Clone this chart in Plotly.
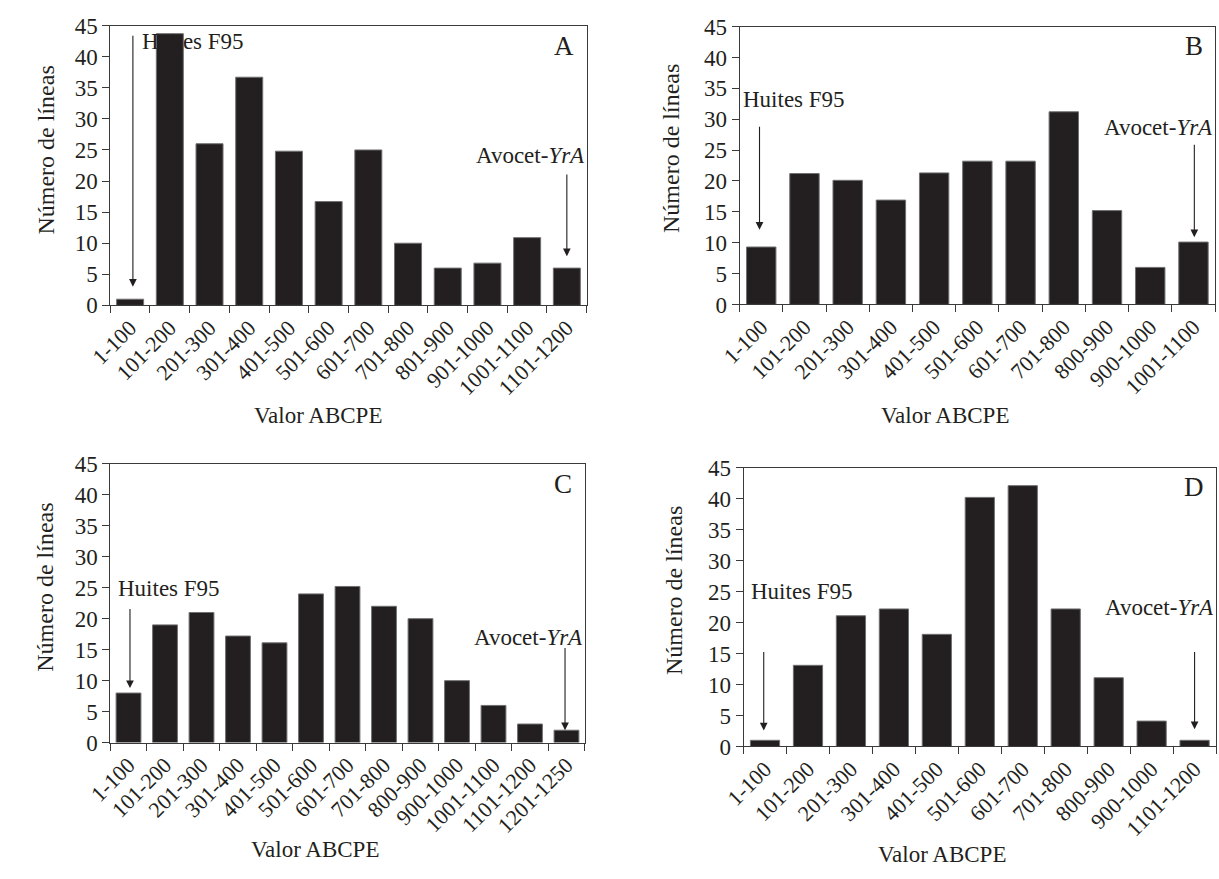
import plotly.graph_objects as go

# ---------------- data ----------------
cats_A = ["1-100", "101-200", "201-300", "301-400", "401-500", "501-600", "601-700",
          "701-800", "801-900", "901-1000", "1001-1100", "1101-1200"]
vals_A = [1, 43.7, 26, 36.7, 24.8, 16.7, 25, 10, 6, 6.8, 10.9, 6]

cats_B = ["1-100", "101-200", "201-300", "301-400", "401-500", "501-600", "601-700",
          "701-800", "800-900", "900-1000", "1001-1100"]
vals_B = [9.3, 21.2, 20.1, 16.9, 21.3, 23.2, 23.2, 31.2, 15.2, 6, 10.1]

cats_C = ["1-100", "101-200", "201-300", "301-400", "401-500", "501-600", "601-700",
          "701-800", "800-900", "900-1000", "1001-1100", "1101-1200", "1201-1250"]
vals_C = [8, 19, 21, 17.2, 16.1, 24, 25.2, 22, 20, 10, 6, 3, 2]

cats_D = ["1-100", "101-200", "201-300", "301-400", "401-500", "501-600", "601-700",
          "701-800", "800-900", "900-1000", "1101-1200"]
vals_D = [1, 13.1, 21.1, 22.2, 18.1, 40.2, 42.1, 22.2, 11.1, 4.1, 1]

panel_letters = ["A", "B", "C", "D"]
y_ticks = [0, 5, 10, 15, 20, 25, 30, 35, 40, 45]
x_title = "Valor ABCPE"
y_title = "Número de líneas"
label_huites = "Huites F95"
label_avocet = "Avocet-<i>YrA</i>"

# ---------------- styling / layout ----------------
W, H = 1219, 879
FONT = "Liberation Serif"
INK = "#231f20"
BAR = "#231f20"

def px_x(v):
    return v / W

def px_y(v):
    return (H - v) / H

panels = [
    dict(cats=cats_A, vals=vals_A, xd=(88, 574), yd=(14, 302)),
    dict(cats=cats_B, vals=vals_B, xd=(730, 1215), yd=(15, 301)),
    dict(cats=cats_C, vals=vals_C, xd=(88, 572), yd=(465, 752)),
    dict(cats=cats_D, vals=vals_D, xd=(734, 1216), yd=(469, 756)),
]

arrows = [
    dict(ht_x=0.25, ht_y=42.5, ha_x=0.07, ha_from=43.6, ha_to=3.0,
         at_y=24.1, aa_x=11.0, aa_from=21.3, aa_to=7.9),
    dict(ht_x=-0.46, ht_y=33.2, ha_x=-0.04, ha_from=29.0, ha_to=12.1,
         at_y=28.6, aa_x=10.02, aa_from=26.1, aa_to=10.9),
    dict(ht_x=-0.35, ht_y=24.9, ha_x=0.04, ha_from=21.8, ha_to=8.8,
         at_y=17.0, aa_x=11.96, aa_from=15.5, aa_to=2.0),
    dict(ht_x=-0.37, ht_y=25.0, ha_x=-0.03, ha_from=15.5, ha_to=2.6,
         at_y=22.5, aa_x=10.0, aa_from=15.5, aa_to=2.8),
]

ytitle_pos = [(22, 142), (660, 141), (22, 592), (663, 595)]
xtitle_pos = [(300, 415), (940, 415), (297, 862), (936, 867)]

fig = go.Figure()
layout = dict(
    width=W, height=H,
    margin=dict(l=0, r=0, t=0, b=0),
    paper_bgcolor="white", plot_bgcolor="white",
    showlegend=False, bargap=0.32,
    font=dict(family=FONT, color=INK, size=21),
)
annotations = []

for i, p in enumerate(panels):
    n = "" if i == 0 else str(i + 1)
    xa, ya = "x" + n, "y" + n
    fig.add_trace(go.Bar(
        x=p["cats"], y=p["vals"], xaxis=xa, yaxis=ya,
        marker=dict(color=BAR, line=dict(color="#707070", width=1)),
        hoverinfo="x+y",
    ))
    layout["xaxis" + n] = dict(
        domain=[px_x(p["xd"][0]), px_x(p["xd"][1])],
        anchor=ya, type="category",
        showline=True, linecolor="#3a3a3a", linewidth=1, mirror=True,
        ticks="outside", tickson="boundaries", ticklen=7, tickcolor="#3a3a3a",
        tickangle=-45, tickfont=dict(family=FONT, size=22, color=INK),
        showgrid=False, zeroline=False,
    )
    layout["yaxis" + n] = dict(
        domain=[px_y(p["yd"][1]), px_y(p["yd"][0])],
        anchor=xa, range=[0, 45], tickvals=y_ticks,
        showline=True, linecolor="#3a3a3a", linewidth=1, mirror=True,
        ticks="outside", ticklen=7, tickcolor="#3a3a3a",
        tickfont=dict(family=FONT, size=23, color=INK),
        showgrid=False, zeroline=False,
    )
    a = arrows[i]
    annotations.append(dict(
        xref=xa, yref=ya, x=a["ht_x"], y=a["ht_y"], text=label_huites,
        showarrow=False, xanchor="left", yanchor="middle",
        font=dict(family=FONT, size=23, color=INK),
    ))
    annotations.append(dict(
        xref=xa, yref=ya, x=a["ha_x"], y=a["ha_to"],
        axref=xa, ayref=ya, ax=a["ha_x"], ay=a["ha_from"], text="",
        showarrow=True, arrowhead=2, arrowsize=1.4, arrowwidth=1.1, arrowcolor=INK,
        standoff=0, startstandoff=0,
    ))
    annotations.append(dict(
        xref=xa + " domain", yref=ya, x=1.0, y=a["at_y"], text=label_avocet,
        showarrow=False, xanchor="right", yanchor="middle",
        font=dict(family=FONT, size=23, color=INK),
    ))
    annotations.append(dict(
        xref=xa, yref=ya, x=a["aa_x"], y=a["aa_to"],
        axref=xa, ayref=ya, ax=a["aa_x"], ay=a["aa_from"], text="",
        showarrow=True, arrowhead=2, arrowsize=1.4, arrowwidth=1.1, arrowcolor=INK,
        standoff=0, startstandoff=0,
    ))
    annotations.append(dict(
        xref=xa + " domain", yref=ya, x=0.978, y=41.8, text=panel_letters[i],
        showarrow=False, xanchor="right", yanchor="middle",
        font=dict(family=FONT, size=27, color=INK),
    ))
    tx, ty = ytitle_pos[i]
    annotations.append(dict(
        xref="paper", yref="paper", x=px_x(tx), y=px_y(ty), text=y_title,
        showarrow=False, textangle=-90, xanchor="center", yanchor="middle",
        font=dict(family=FONT, size=24, color=INK),
    ))
    tx, ty = xtitle_pos[i]
    annotations.append(dict(
        xref="paper", yref="paper", x=px_x(tx), y=px_y(ty), text=x_title,
        showarrow=False, xanchor="center", yanchor="middle",
        font=dict(family=FONT, size=23, color=INK),
    ))

layout["annotations"] = annotations
fig.update_layout(**layout)
fig.write_html(
    "out.html",
    config={"displayModeBar": False},
    post_script="document.documentElement.style.overflow='hidden';"
                "document.body.style.margin='0';document.body.style.overflow='hidden';",
)
